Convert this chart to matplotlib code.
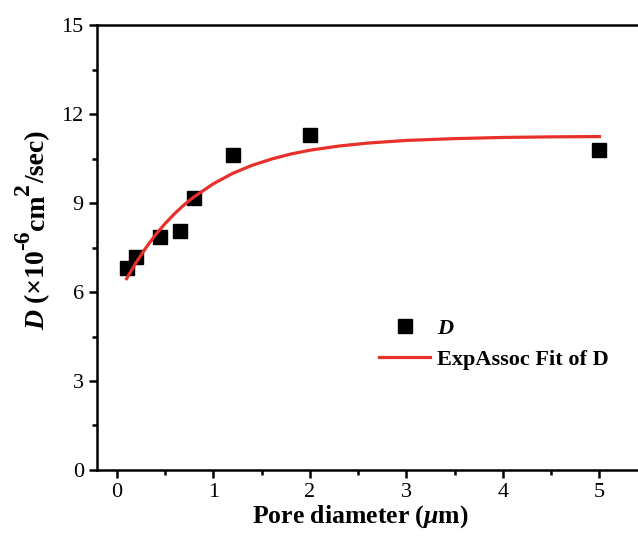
import numpy as np
import matplotlib
matplotlib.use('Agg')
import matplotlib.pyplot as plt
from matplotlib.ticker import MultipleLocator

plt.rcParams['font.family'] = 'Liberation Serif'
plt.rcParams['mathtext.fontset'] = 'custom'
plt.rcParams['mathtext.rm'] = 'Liberation Serif:bold'
plt.rcParams['mathtext.bf'] = 'Liberation Serif:bold'
plt.rcParams['mathtext.it'] = 'Liberation Serif:italic:bold'

# measured points
pore = [0.1, 0.2, 0.45, 0.65, 0.8, 1.2, 2.0, 5.0]
D = [6.8, 7.18, 7.85, 8.05, 9.16, 10.63, 11.3, 10.78]

# ExpAssoc fit curve
fit_x = [0.1, 0.2, 0.3, 0.4, 0.5, 0.6, 0.7, 0.8, 1.0, 1.2, 1.4, 1.6, 1.8,
         2.0, 2.3, 2.6, 3.0, 3.5, 4.0, 4.5, 5.0]
fit_y = [6.45, 7.0, 7.49, 7.93, 8.31, 8.65, 8.95, 9.21, 9.65, 10.0, 10.27,
         10.48, 10.65, 10.78, 10.92, 11.02, 11.11, 11.17, 11.21, 11.23, 11.24]

fig = plt.figure(figsize=(6.38, 5.38), dpi=100)
ax = fig.add_axes([0.152, 0.1264, 0.848, 0.8271])

ax.plot(pore, D, 's', color='black', markersize=10, label=r'$D$')
ax.plot(fit_x, fit_y, '-', color='#e8302a', linewidth=2.3, label='ExpAssoc Fit of D')

ax.set_xlim(-0.207, 5.40)
ax.set_ylim(0, 15)
ax.xaxis.set_major_locator(MultipleLocator(1))
ax.xaxis.set_minor_locator(MultipleLocator(0.5))
ax.yaxis.set_major_locator(MultipleLocator(3))
ax.yaxis.set_minor_locator(MultipleLocator(1.5))

for s in ['left', 'bottom', 'top']:
    ax.spines[s].set_linewidth(1.8)
ax.spines['right'].set_visible(False)
ax.tick_params(which='major', direction='out', length=6, width=1.8, labelsize=16)
ax.tick_params(which='minor', direction='out', length=3.5, width=1.8)
ax.tick_params(top=False, which='both')

ax.set_xlabel(r'Pore diameter ($\mu$m)', fontsize=18.5, fontweight='bold', labelpad=3)
ax.xaxis.set_label_coords(0.487, -0.075)

# y label built from pieces so the superscripts stay large
pieces = [('D', 20, 'italic', 0), (' (×10', 20, 'normal', 0),
          ('-6', 17, 'normal', 15), ('cm', 20, 'normal', 0),
          ('2', 17, 'normal', 15), ('/sec)', 20, 'normal', 0)]
renderer = fig.canvas.get_renderer()
lens = []
for txt, size, style, rise in pieces:
    t = fig.text(0, 0, txt, fontsize=size, fontweight='bold', style=style)
    lens.append(t.get_window_extent(renderer).width)
    t.remove()
W, H = fig.bbox.width, fig.bbox.height
y = 0.5725 * H - sum(lens) / 2
base_x = 44
for (txt, size, style, rise), L in zip(pieces, lens):
    fig.text((base_x - rise) / W, y / H, txt, fontsize=size, fontweight='bold',
             style=style, rotation=90, rotation_mode='anchor',
             ha='left', va='baseline')
    y += L

leg = ax.legend(loc='upper left', bbox_to_anchor=(0.485, 0.385), frameon=False,
                prop={'weight': 'bold', 'size': 16}, handlelength=2.3,
                handletextpad=0.3, labelspacing=0.45)

fig.savefig('out.png', dpi=100)
